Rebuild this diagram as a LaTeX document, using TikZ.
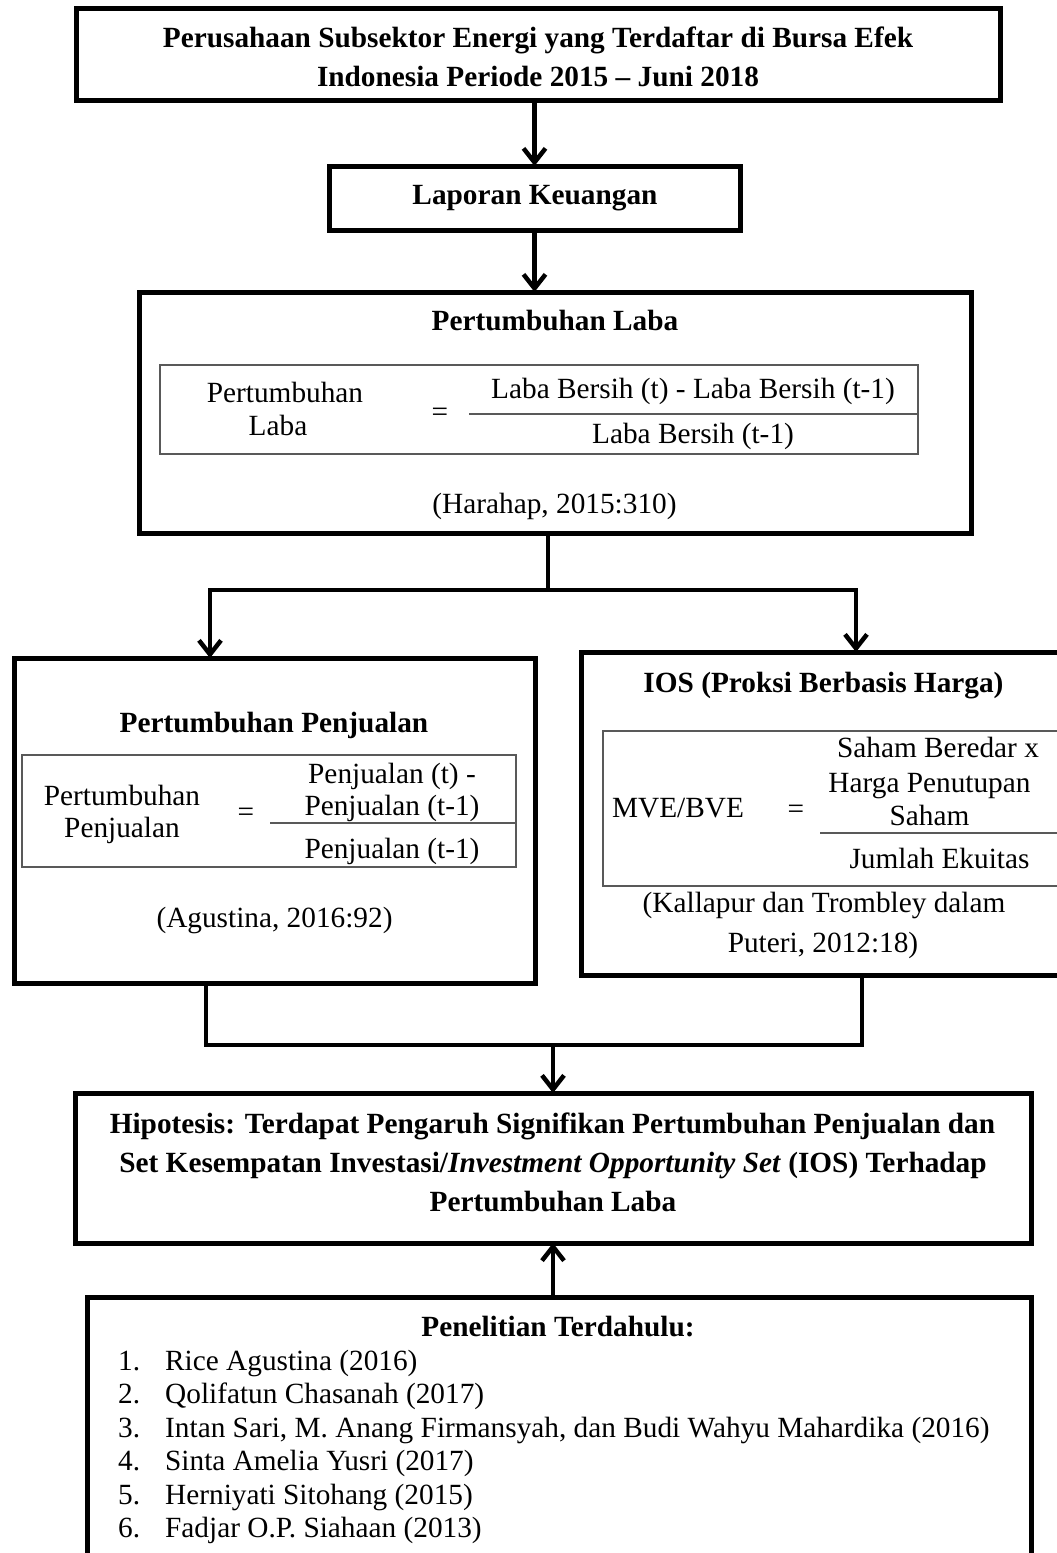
\documentclass[tikz,border=0pt]{standalone}
\usepackage{fontspec}
\setmainfont{Liberation Serif}
\usetikzlibrary{arrows.meta}

\tikzset{
  frame/.style={draw=black, line width=5pt, inner sep=0pt, outer sep=0pt},
  inframe/.style={draw=black!65, line width=1.5pt, inner sep=0pt, outer sep=0pt},
  rule/.style={draw=black!65, line width=2pt},
  link/.style={line width=4.5pt},
  conn/.style={link, -{Straight Barb[length=14pt,width=22pt]}},
  txt/.style={font=\fontsize{29.3}{33}\selectfont, inner sep=0pt, anchor=base},
  btxt/.style={txt, font=\fontsize{29.3}{33}\selectfont\bfseries},
}

\begin{document}
\begin{tikzpicture}[x=1pt, y=-1pt]
			%%%%% START %%%%%
			\useasboundingbox (0,0) rectangle (1057,1553);
			\clip (0,0) rectangle (1057,1553);
			
			\node[frame, minimum width=924pt, minimum height=92pt] (top) at (538,54) {};
			\node[btxt] (top1) at (538,47) {Perusahaan Subsektor Energi yang Terdaftar di Bursa Efek};
			\node[btxt] (top2) at (538,86) {Indonesia Periode 2015 – Juni 2018};
			
			\node[frame, minimum width=411pt, minimum height=64pt] (lap) at (534.5,198) {};
			\node[btxt] (laptxt) at (535,204) {Laporan Keuangan};
			
			\node[frame, minimum width=832pt, minimum height=241pt] (laba) at (555,412.5) {};
			\node[btxt] (labatitle) at (555,330) {Pertumbuhan Laba};
			\node[inframe, minimum width=758pt, minimum height=89pt] (labatab) at (539,409.5) {};
			\node[txt] (labaname1) at (285,402) {Pertumbuhan};
			\node[txt] (labaname2) at (278,435) {Laba};
			\node[txt] (labaeq) at (440,421) {=};
			\node[txt] (labanum) at (693,398) {Laba Bersih (t) - Laba Bersih (t-1)};
			\node[txt] (labaden) at (693,443) {Laba Bersih (t-1)};
			\draw[rule] (469,414) -- (labatab.east |- 0,414);
			\node[txt] (labacite) at (554.5,513) {(Harahap, 2015:310)};
			
			\node[frame, minimum width=521pt, minimum height=325pt] (penj) at (274.5,820.5) {};
			\node[btxt] (penjtitle) at (274,732) {Pertumbuhan Penjualan};
			\node[inframe, minimum width=494pt, minimum height=112pt] (penjtab) at (269,811) {};
			\node[txt] (penjname1) at (122,805) {Pertumbuhan};
			\node[txt] (penjname2) at (122,837) {Penjualan};
			\node[txt] (penjeq) at (246,821) {=};
			\node[txt] (penjnum1) at (392,783) {Penjualan (t) -};
			\node[txt] (penjnum2) at (392,815) {Penjualan (t-1)};
			\node[txt] (penjden) at (392,858) {Penjualan (t-1)};
			\draw[rule] (270,823) -- (penjtab.east |- 0,823);
			\node[txt] (penjcite) at (274.5,927) {(Agustina, 2016:92)};
			
			\node[frame, minimum width=487pt, minimum height=323pt] (ios) at (824.5,813.5) {};
			\node[btxt] (iostitle) at (823.5,692) {IOS (Proksi Berbasis Harga)};
			\node[inframe, minimum width=457pt, minimum height=155pt] (iostab) at (831.5,808.5) {};
			\node[txt] (iosname) at (678,817) {MVE/BVE};
			\node[txt] (ioseq) at (796,818) {=};
			\node[txt] (iosnum1) at (938,757) {Saham Beredar x};
			\node[txt] (iosnum2) at (929.5,792) {Harga Penutupan};
			\node[txt] (iosnum3) at (929.5,825) {Saham};
			\node[txt] (iosden) at (939.5,868) {Jumlah Ekuitas};
			\draw[rule] (820,833) -- (iostab.east |- 0,833);
			\node[txt] (ioscite1) at (824,912) {(Kallapur dan Trombley dalam};
			\node[txt] (ioscite2) at (823,952) {Puteri, 2012:18)};
			
			\node[frame, minimum width=956pt, minimum height=150pt] (hipo) at (553,1168) {};
			\node[btxt] (hipo1) at (552.5,1133) {Hipotesis: Terdapat Pengaruh Signifikan Pertumbuhan Penjualan dan};
			\node[btxt] (hipo2) at (553,1172) {Set Kesempatan Investasi/\textit{Investment Opportunity Set} (IOS) Terhadap};
			\node[btxt] (hipo3) at (553,1211) {Pertumbuhan Laba};
			
			\node[frame, minimum width=944pt, minimum height=273pt] (prev) at (559,1433.5) {};
			\node[btxt] (prevtitle) at (558,1336) {Penelitian Terdahulu:};
			\node[txt, anchor=base west] (r1) at (118,1370) {\makebox[47pt][l]{1.}Rice Agustina (2016)};
			\node[txt, anchor=base west] (r2) at (118,1403) {\makebox[47pt][l]{2.}Qolifatun Chasanah (2017)};
			\node[txt, anchor=base west] (r3) at (118,1437) {\makebox[47pt][l]{3.}Intan Sari, M. Anang Firmansyah, dan Budi Wahyu Mahardika (2016)};
			\node[txt, anchor=base west] (r4) at (118,1470) {\makebox[47pt][l]{4.}Sinta Amelia Yusri (2017)};
			\node[txt, anchor=base west] (r5) at (118,1504) {\makebox[47pt][l]{5.}Herniyati Sitohang (2015)};
			\node[txt, anchor=base west] (r6) at (118,1537) {\makebox[47pt][l]{6.}Fadjar O.P. Siahaan (2013)};
			
			% connectors
			\coordinate (split) at (548,590);
			\coordinate (jl) at (210,590);
			\coordinate (jr) at (856,590);
			\coordinate (ml) at (206,1045);
			\coordinate (mr) at (862,1045);
			
			\draw[conn] (lap.north |- top.south) -- (lap.north);
			\draw[conn] (lap.south) -- (lap.south |- laba.north);
			\draw[conn] (laba.south -| split) |- (jl) -- (jl |- penj.north);
			\draw[conn] (split) -- (jr) -- (jr |- ios.north);
			\draw[link] (penj.south -| ml) -- (ml) -- (mr) -- (ios.south -| mr);
			\draw[conn] (hipo.north |- ml) -- (hipo.north);
			\draw[conn] (hipo.south |- prev.north) -- (hipo.south);
			
			%%%%% END %%%%%
\end{tikzpicture}
\end{document}
